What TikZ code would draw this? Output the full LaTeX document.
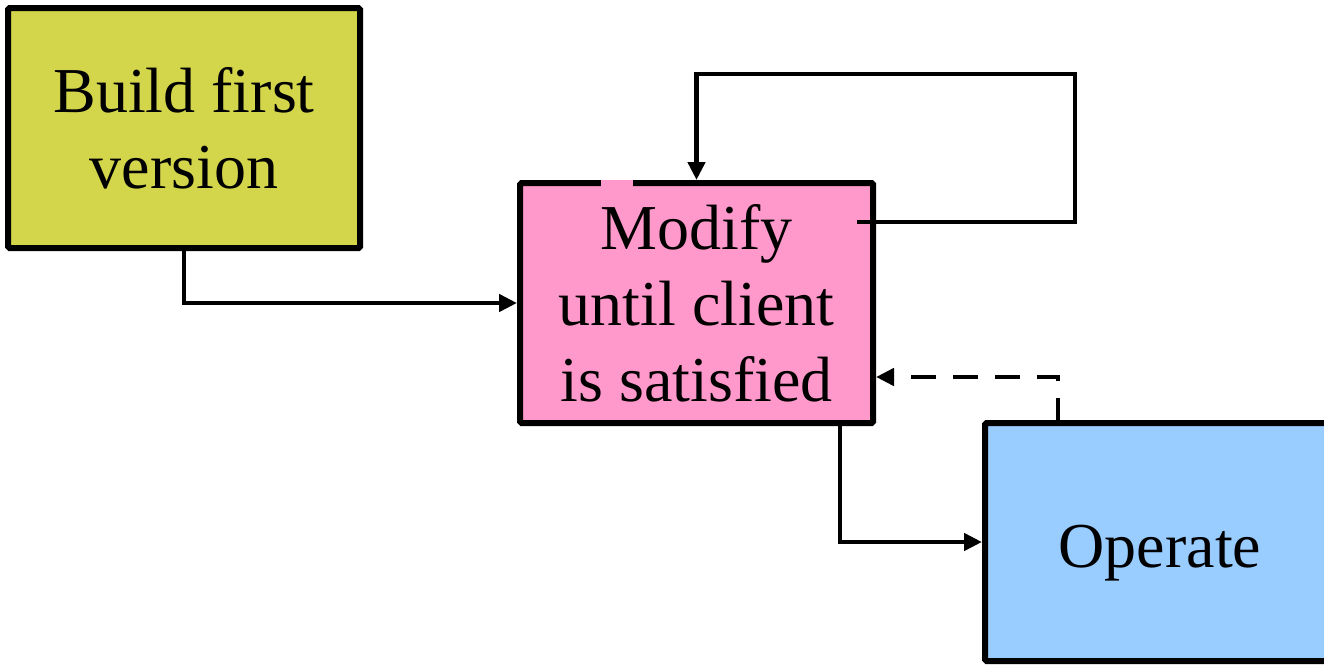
\documentclass[tikz,border=0pt]{standalone}
\usepackage{fontspec}
\setmainfont{Liberation Serif}
\usetikzlibrary{arrows.meta}
\definecolor{buildcol}{HTML}{D3D54A}
\definecolor{modifycol}{HTML}{FF99CC}
\definecolor{operatecol}{HTML}{99CCFF}
\tikzset{
  stagebox/.style={draw=black, line width=6pt, rounded corners=1.5pt, align=center,
    inner sep=0pt, font=\fontsize{64}{76}\selectfont},
  flow/.style={line width=4.5pt, line join=miter,
    -{Triangle[length=18pt,width=17pt]}},
  backflow/.style={flow, dash pattern=on 25pt off 17pt},
}
\begin{document}
\begin{tikzpicture}[x=1pt,y=-1pt]
\useasboundingbox (0,0) rectangle (1324,664);
\clip (0,0) rectangle (1324,664);
% stages
\node[stagebox, fill=buildcol, minimum width=352pt, minimum height=240pt] (build) at (184,128) {Build first\\version};
\node[stagebox, fill=modifycol, minimum width=353pt, minimum height=240pt] (modify) at (696.5,303) {Modify\\until client\\is satisfied};
\fill[modifycol] (601,180) rectangle (633,188);
\node[stagebox, fill=operatecol, minimum width=350pt, minimum height=238pt] (operate) at (1160,542) {\raisebox{-25pt}[0pt][0pt]{Operate}};
% connection points
\coordinate (loopstart) at (857,222);
\coordinate (loopcorner) at (1075,74);
\coordinate (feedback) at (1058,423);
% connectors
\draw[flow] (build.south) |- (modify.west);
\draw[flow] (loopstart) -| (loopcorner) -| (modify.north);
\draw[flow] ([xshift=143.5pt]modify.south) |- (operate.west);
\draw[backflow] (feedback) |- ([yshift=-74pt]modify.east);
\end{tikzpicture}
\end{document}
